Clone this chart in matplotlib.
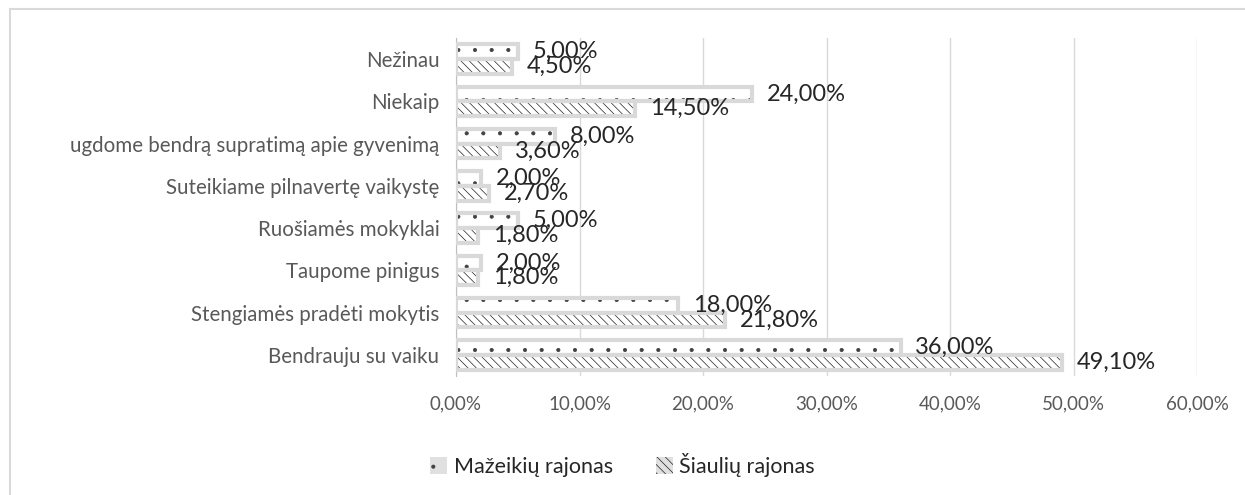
import matplotlib.pyplot as plt
from matplotlib.patches import Rectangle, Patch

plt.rcParams['font.family'] = ['Lato', 'DejaVu Sans']
plt.rcParams['hatch.linewidth'] = 0.5

categories = ["Bendrauju su vaiku", "Stengiamės pradėti mokytis", "Taupome pinigus",
              "Ruošiamės mokyklai", "Suteikiame pilnavertę vaikystę",
              "ugdome bendrą supratimą apie gyvenimą", "Niekaip", "Nežinau"]
mazeikiai = [36.0, 18.0, 2.0, 5.0, 2.0, 8.0, 24.0, 5.0]
siauliai = [49.1, 21.8, 1.8, 1.8, 2.7, 3.6, 14.5, 4.5]
series_names = ["Mažeikių rajonas", "Šiaulių rajonas"]
x_ticks = [0, 10, 20, 30, 40, 50, 60]

fig = plt.figure(figsize=(12.45, 4.95), dpi=100)
fig.patches.append(Rectangle((10 / 1245, -0.01), 1.1, 1 - 9 / 495 + 0.01,
                             transform=fig.transFigure, fill=False,
                             edgecolor='#d9d9d9', linewidth=1.5))
ax = fig.add_axes([456 / 1245, 1 - 376 / 495, (1197 - 456) / 1245, (376 - 38) / 495])

h = 0.35
pos = list(range(len(categories)))
y_m = [p + h / 2 for p in pos]
y_s = [p - h / 2 for p in pos]

for yv, vals, hatch, hc in [(y_m, mazeikiai, '.', '#404040'), (y_s, siauliai, '\\\\\\\\', '#202020')]:
    ax.barh(yv, vals, height=h, color='white', edgecolor=hc, hatch=hatch,
            linewidth=0, zorder=2)
    ax.barh(yv, vals, height=h, fill=False, edgecolor='#d9d9d9', linewidth=3, zorder=3)
    for y, v in zip(yv, vals):
        ax.text(v + 1.2, y, f"{v:.2f}%".replace('.', ','), va='center', ha='left',
                fontsize=17, color='#262626', zorder=4)

ax.set_xlim(0, 60)
ax.set_ylim(-0.5, len(categories) - 0.5)
ax.set_xticks(x_ticks)
ax.set_xticklabels([f"{t:.2f}%".replace('.', ',') for t in x_ticks])
ax.set_yticks(pos)
ax.set_yticklabels(categories)
ax.tick_params(length=0, labelsize=13.5, labelcolor='#595959')
ax.tick_params(axis='y', labelsize=14.8)
ax.tick_params(axis='x', pad=14)
ax.tick_params(axis='y', pad=12)
ax.grid(axis='x', color='#d9d9d9', linewidth=1, zorder=0)
ax.set_axisbelow(True)
for s in ['top', 'right', 'bottom']:
    ax.spines[s].set_visible(False)
ax.spines['left'].set_color('#bfbfbf')

handles = [Patch(facecolor='#e0e0e0', edgecolor='#404040', hatch='.', linewidth=0),
           Patch(facecolor='#e0e0e0', edgecolor='#202020', hatch='\\\\\\\\', linewidth=0)]
fig.legend(handles, series_names, loc='center', bbox_to_anchor=(0.5, 1 - 465 / 495),
           ncol=2, frameon=False, fontsize=15.5, handlelength=0.8, handleheight=0.8,
           handletextpad=0.3, columnspacing=2.0, labelcolor='#262626')

fig.savefig('out.png', dpi=100)
